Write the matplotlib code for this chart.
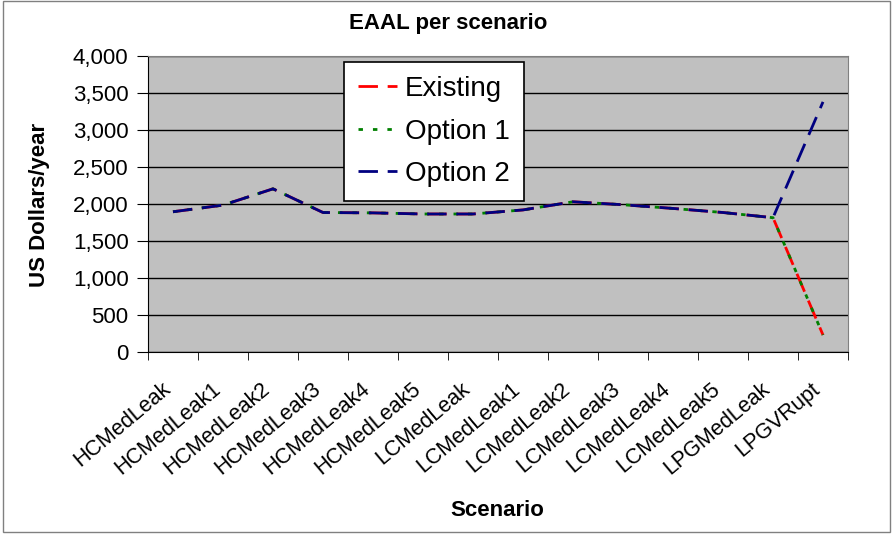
import matplotlib
matplotlib.use("Agg")
import matplotlib.pyplot as plt
from matplotlib.patches import Rectangle
import matplotlib.transforms as mtransforms
import numpy as np

plt.rcParams['font.family'] = ['Liberation Sans', 'DejaVu Sans']

categories = ["HCMedLeak", "HCMedLeak1", "HCMedLeak2", "HCMedLeak3", "HCMedLeak4",
              "HCMedLeak5", "LCMedLeak", "LCMedLeak1", "LCMedLeak2", "LCMedLeak3",
              "LCMedLeak4", "LCMedLeak5", "LPGMedLeak", "LPGVRupt"]
existing = [1895, 1985, 2205, 1885, 1880, 1865, 1865, 1920, 2030, 1990, 1940, 1885, 1815, 230]
option1 = [1895, 1985, 2205, 1885, 1880, 1865, 1865, 1920, 2030, 1990, 1940, 1885, 1815, 230]
option2 = [1895, 1985, 2205, 1885, 1880, 1865, 1865, 1920, 2030, 1990, 1940, 1885, 1815, 3380]
yticks = [0, 500, 1000, 1500, 2000, 2500, 3000, 3500, 4000]

fig = plt.figure(figsize=(8.94, 5.35), dpi=100)
fig.patches.append(Rectangle((0.003, 0.005), 0.992, 0.993, transform=fig.transFigure,
                             fill=False, edgecolor='#808080', linewidth=1))
ax = fig.add_axes([148 / 894, 1 - 352 / 535, 700 / 894, 296 / 535])
ax.set_facecolor('#C0C0C0')

x = np.arange(len(categories))
ax.plot(x, existing, color='#FF0000', linewidth=2, dashes=(7, 3.5), label='Existing', zorder=3)
ax.plot(x, option1, color='#008000', linewidth=2, dashes=(1.6, 3.6), label='Option 1', zorder=4)
ax.plot(x, option2, color='#000080', linewidth=2, dashes=(7, 3.5), label='Option 2', zorder=5)

ax.set_xlim(-0.5, len(categories) - 0.5)
ax.set_ylim(0, 4000)
ax.set_yticks(yticks)
ax.set_yticklabels([f"{v:,}" for v in yticks], fontsize=16)
ax.yaxis.grid(True, color='#000000', linewidth=1)
ax.set_axisbelow(True)

ax.set_xticks(x)
ax.set_xticklabels(categories, rotation=40, ha='right', va='top', rotation_mode='anchor', fontsize=15.5)
ax.set_xticks(np.arange(-0.5, len(categories)), minor=True)
ax.tick_params(axis='x', which='major', length=0, pad=19)
ax.tick_params(axis='x', which='minor', length=6, direction='out', color='black')
ax.tick_params(axis='y', length=8, direction='out', color='black', pad=6)
offset = mtransforms.ScaledTranslation(-12 / 100, 0, fig.dpi_scale_trans)
for lbl in ax.get_xticklabels():
    lbl.set_transform(lbl.get_transform() + offset)

for s in ['top', 'right']:
    ax.spines[s].set_color('#808080')
for s in ['left', 'bottom']:
    ax.spines[s].set_color('#000000')

fig.text(448 / 894, 1 - 23 / 535, "EAAL per scenario", fontsize=16, fontweight='bold',
         ha='center', va='center')
fig.text(497 / 894, 1 - 510 / 535, "Scenario", fontsize=16, fontweight='bold',
         ha='center', va='center')
fig.text(40 / 894, 1 - 205 / 535, "US Dollars/year", fontsize=16, fontweight='bold',
         ha='center', va='center', rotation=90)

leg = ax.legend(loc='upper left', bbox_to_anchor=(196 / 700, 290 / 296), borderaxespad=0,
                fontsize=20, frameon=True, fancybox=False, edgecolor='black', framealpha=1,
                handlelength=1.4, borderpad=0.5, labelspacing=0.6, handletextpad=0.3)
leg.get_frame().set_linewidth(1.2)

fig.savefig("out.png", dpi=100)
